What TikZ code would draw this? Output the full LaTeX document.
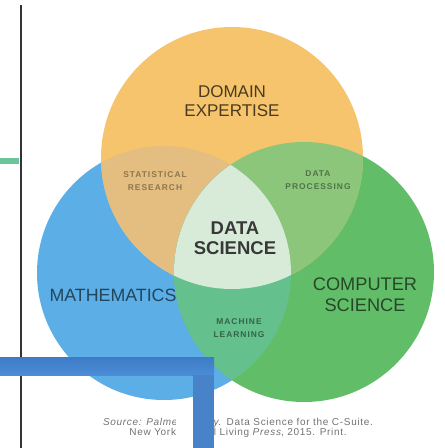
\documentclass[tikz,border=0pt]{standalone}
\usepackage{fontspec}
\setmainfont{Liberation Sans}
\begin{document}
\begin{tikzpicture}[x=1pt,y=-1pt,
  bigtitle/.style={font=\fontsize{17}{20}\selectfont, align=center, inner sep=0pt},
  coretitle/.style={font=\bfseries\fontsize{18.5}{20.5}\selectfont, align=center, inner sep=0pt, text=black!78},
  smalllab/.style={font=\bfseries\fontsize{8.4}{13.5}\selectfont\addfontfeatures{LetterSpace=12}, align=center, inner sep=0pt},
  sourcetext/.style={font=\fontsize{10}{10.8}\selectfont\addfontfeatures{LetterSpace=7}, align=center, inner sep=0pt, text=black!55}]
\definecolor{cOrange}{HTML}{F6C46C}
\definecolor{cBlue}{HTML}{5BAEE6}
\definecolor{cGreen}{HTML}{62BD69}
\definecolor{cTan}{HTML}{E4BE80}
\definecolor{cLeaf}{HTML}{8CC67A}
\definecolor{cTeal}{HTML}{64C08C}
\definecolor{cCore}{HTML}{D8EBD9}
\definecolor{cBar}{HTML}{3E7BC6}
\definecolor{cBarLow}{HTML}{4B8DD6}
\definecolor{cMint}{HTML}{6CC59A}

\useasboundingbox (0,0) rectangle (445,448);
\fill[white] (0,0) rectangle (445,448);

% circle centres and radii
\coordinate (cd) at (232,158);
\coordinate (cm) at (164,273);
\coordinate (cc) at (304,272);
\def\rd{131}
\def\rm{127}
\def\rc{130}

% the three sets
\fill[cBlue]   (cm) circle[radius=\rm];
\fill[cGreen]  (cc) circle[radius=\rc];
\fill[cOrange] (cd) circle[radius=\rd];

% pairwise overlaps
\begin{scope}
  \clip (cd) circle[radius=\rd];
  \fill[cTan] (cm) circle[radius=\rm];
  \fill[cLeaf] (cc) circle[radius=\rc];
\end{scope}
\begin{scope}
  \clip (cm) circle[radius=\rm];
  \fill[cTeal] (cc) circle[radius=\rc];
\end{scope}
% triple overlap
\begin{scope}
  \clip (cd) circle[radius=\rd];
  \clip (cm) circle[radius=\rm];
  \fill[cCore] (cc) circle[radius=\rc];
\end{scope}

% labels
\node[bigtitle, text=cOrange!30!black] (domain) at (232,101) {DOMAIN\\[-1pt]EXPERTISE};
\node[coretitle] (core) at (235,238) {DATA\\SCIENCE};
\node[bigtitle, text=cBlue!40!black, font=\fontsize{17.8}{20}\selectfont] (math) at (113,295) {MATHEMATICS};
\node[bigtitle, text=cGreen!38!black, font=\fontsize{18.2}{21}\selectfont] (cs) at (365,295) {COMPUTER\\SCIENCE};
\node[smalllab, text=cTan!62!black] (stat) at (155,181) {STATISTICAL\\RESEARCH};
\node[smalllab, text=cLeaf!58!black] (proc) at (318,180) {DATA\\PROCESSING};
\node[smalllab, text=cTeal!52!black] (ml) at (239,328) {MACHINE\\LEARNING};

\node[sourcetext] (src) at (238,428) {\textit{Source: Palmer, Shelly.} Data Science for the C-Suite.\\New York: Digital Living \textit{Press}, 2015. Print.};

% soft light margin beside the vertical bar
\fill[white] (176,406) rectangle (193,448);

% page frame line and accent bars
\draw[line width=1.6pt, black!80] (21,5) -- (21,448);
\fill[cMint] (0,158) rectangle (19,164);
\shade[top color=cBar, bottom color=cBarLow] (0,357) rectangle (214,375);
\fill[cBar!95!white] (193,375) rectangle (214,448);
\end{tikzpicture}
\end{document}
